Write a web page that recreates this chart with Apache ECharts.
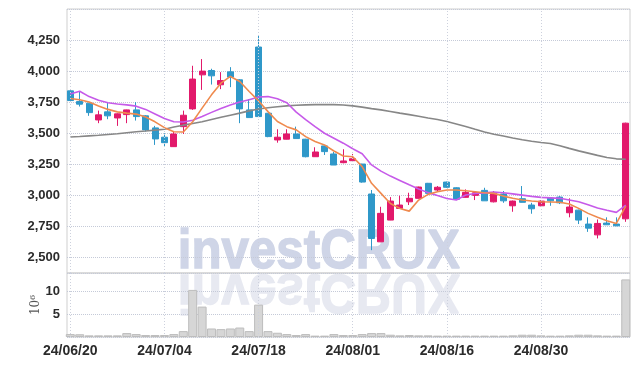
<!DOCTYPE html>
<html><head><meta charset="utf-8">
<script src="https://cdn.jsdelivr.net/npm/echarts@6/dist/echarts.min.js"></script>
<style>html,body{margin:0;padding:0;background:#fff}#c{width:639px;height:366px}</style>
</head><body><div id="c"></div>
<script>
const dates = ['24/06/20','24/06/21','24/06/24','24/06/25','24/06/26','24/06/27','24/06/28','24/07/01','24/07/02','24/07/03','24/07/04','24/07/05','24/07/08','24/07/09','24/07/10','24/07/11','24/07/12','24/07/15','24/07/16','24/07/17','24/07/18','24/07/19','24/07/22','24/07/23','24/07/24','24/07/25','24/07/26','24/07/29','24/07/30','24/07/31','24/08/01','24/08/02','24/08/05','24/08/06','24/08/07','24/08/08','24/08/09','24/08/12','24/08/13','24/08/14','24/08/16','24/08/19','24/08/20','24/08/21','24/08/22','24/08/23','24/08/26','24/08/27','24/08/28','24/08/29','24/08/30','24/09/02','24/09/03','24/09/04','24/09/05','24/09/06','24/09/09','24/09/10','24/09/11','24/09/12'];
const openP  = [3841,3755,3742,3607,3672,3623,3650,3688,3640,3543,3468,3392,3553,3696,3970,4005,3890,3994,3930,3688,4194,3661,3446,3452,3494,3452,3311,3398,3333,3263,3279,3252,3011,2626,2801,2895,2948,2976,3097,3043,3107,3061,2984,3000,3040,2948,3011,2916,2973,2922,2916,2978,2986,2860,2881,2769,2682,2777,2769,2811];
const closeP = [3763,3734,3666,3648,3640,3656,3688,3634,3527,3454,3424,3494,3645,3936,4000,3962,3924,3952,3696,3626,3634,3473,3468,3494,3457,3311,3349,3352,3244,3277,3295,3107,2653,2855,2954,2922,2976,3067,3016,3065,3065,2968,3024,3021,2956,3016,2956,2954,2944,2892,2954,2956,2940,2906,2801,2736,2774,2763,2755,3581];
const lowP   = [3755,3715,3640,3581,3613,3559,3581,3602,3513,3406,3392,3390,3494,3688,3849,3892,3855,3871,3581,3624,3630,3468,3424,3450,3457,3306,3309,3325,3244,3258,3279,3102,2559,2624,2800,2893,2922,2974,3013,3035,3060,2965,2982,2962,2955,2943,2940,2868,2942,2852,2912,2916,2930,2823,2769,2706,2653,2763,2752,2787];
const highP  = [3845,3836,3745,3682,3747,3660,3690,3750,3645,3559,3500,3513,3682,4043,4097,4019,3992,4032,3935,3774,4285,3661,3532,3532,3553,3455,3387,3400,3349,3371,3333,3254,3043,2908,2986,2997,3021,3070,3100,3075,3110,3065,3048,3025,3061,3035,3035,2958,3075,2940,2960,2980,2994,2976,2885,2823,2806,2823,2823,3585];
const maShort = [3780,3770,3752,3720,3692,3672,3662,3654,3630,3592,3545,3512,3510,3592,3702,3809,3903,3957,3916,3836,3760,3674,3594,3553,3527,3473,3433,3406,3357,3317,3311,3231,3097,3016,2935,2895,2873,2962,3008,3029,3043,3043,3037,3029,3021,3016,2994,2976,2962,2954,2948,2946,2944,2930,2895,2855,2823,2795,2774,2914];
const maMid = [3815,3838,3795,3765,3745,3735,3728,3718,3692,3655,3618,3592,3590,3605,3635,3668,3700,3728,3752,3770,3792,3795,3778,3745,3670,3610,3553,3500,3460,3420,3375,3335,3245,3195,3155,3120,3085,3052,3022,2998,2975,2962,3003,3015,3020,3026,3021,3012,3002,2992,2984,2980,2976,2962,2948,2925,2898,2880,2863,2922];
const maLong = [3470,3474,3479,3484,3490,3496,3504,3512,3518,3525,3532,3550,3565,3578,3592,3610,3628,3645,3662,3680,3695,3705,3713,3720,3725,3728,3730,3730,3730,3727,3720,3710,3698,3688,3675,3662,3650,3637,3623,3610,3595,3575,3555,3532,3510,3492,3478,3462,3447,3435,3425,3418,3400,3378,3358,3340,3322,3305,3294,3290];
const volume = [0.64,0.6,0.36,0.36,0.36,0.36,0.86,0.64,0.43,0.43,0.43,0.64,1.29,10.3,6.65,1.86,1.72,1.86,2.07,1.29,7.08,1.29,0.93,0.64,0.43,0.64,0.3,0.3,0.64,0.43,0.43,0.64,0.86,0.86,0.5,0.36,0.43,0.36,0.36,0.3,0.3,0.3,0.3,0.3,0.3,0.3,0.3,0.36,0.5,0.5,0.36,0.3,0.3,0.36,0.5,0.5,0.36,0.3,0.3,12.6];
const priceTicks = [2500,2750,3000,3250,3500,3750,4000,4250];
const volumeTicks = [5,10];
const dateTickIdx = [0,10,20,30,40,50];

const UP = '#e2196b', DOWN = '#2f98c9';
const GRIDC = '#c5cad8';
const LBL = {fontFamily:'"Liberation Sans",Arial,sans-serif', fontWeight:'bold', color:'#2b2b2b'};

const candleData = dates.map((d,i)=>[i, openP[i], closeP[i], lowP[i], highP[i]]);
const toXY = arr => arr.map((v,i)=>[i,v]);
const vLines = dateTickIdx.map(i => ({xAxis:i}));

const chart = echarts.init(document.getElementById('c'));
const splitColors = [];
for (let v = 2375; v <= 4500; v += 125) splitColors.push(v % 250 === 0 ? GRIDC : 'rgba(0,0,0,0)');

const xCommon = {
  type:'value', min:-0.35, max:59.45,
  axisLine:{show:false}, axisTick:{show:false},
  splitLine:{show:false}
};
const gridMarkLine = {
  silent:true, symbol:['none','none'], label:{show:false},
  lineStyle:{type:[1,2], color:'#cdd1dd', width:1},
  emphasis:{disabled:true}, animation:false,
  data:vLines
};
const wmStyle = {text:'investCRUX', x:0, y:-19, font:'bold 56px Liberation Sans', lineWidth:1.4, verticalAlign:'middle', textVerticalAlign:'middle'};

chart.setOption({
  animation:false,
  grid:[
    {left:67, right:9, top:9, height:264, show:true, borderColor:'#cfcfcf', borderWidth:1},
    {left:67, right:9, top:273, height:64, show:true, borderColor:'#cfcfcf', borderWidth:1}
  ],
  xAxis:[
    Object.assign({gridIndex:0, axisLabel:{show:false}}, xCommon),
    Object.assign({gridIndex:1, axisLabel:Object.assign({show:true, fontSize:14, margin:7, showMinLabel:false, showMaxLabel:false,
      formatter:v => dateTickIdx.indexOf(v) >= 0 ? dates[v] : ''}, LBL)}, xCommon)
  ],
  yAxis:[
    {gridIndex:0, type:'value', min:2375, max:4500, interval:125,
      axisLine:{show:false}, axisTick:{show:false},
      axisLabel:Object.assign({fontSize:13, margin:7, showMaxLabel:false,
        formatter:v => priceTicks.indexOf(v) >= 0 ? v.toLocaleString('en-US') : ''}, LBL),
      splitLine:{show:true, lineStyle:{type:'dotted', color:splitColors}}},
    {gridIndex:1, type:'value', min:0, max:14, interval:5,
      axisLine:{show:false}, axisTick:{show:false},
      name:'10\u2076', nameLocation:'middle', nameRotate:90, nameGap:25, nameMoveOverlap:false,
      nameTextStyle:{fontFamily:'"DejaVu Serif",serif', fontSize:12, color:'#555'},
      axisLabel:Object.assign({fontSize:13, margin:7, showMinLabel:false, showMaxLabel:false,
        formatter:v => volumeTicks.indexOf(v) >= 0 ? String(v) : ''}, LBL),
      splitLine:{show:true, lineStyle:{type:'dotted', color:GRIDC}}}
  ],
  graphic:[
    {type:'text', x:177.7, y:271.7, scaleX:0.88, z:0, silent:true,
      style:Object.assign({fill:'#cfd5e7', stroke:'#cfd5e7'}, wmStyle)},
    {type:'text', x:177.7, y:271.7, scaleX:0.88, scaleY:-1, z:0, silent:true,
      style:Object.assign({fill:'#e7e9f1', stroke:'#e7e9f1'}, wmStyle)}
  ],
  series:[
    {type:'line', xAxisIndex:0, yAxisIndex:0, data:[], z:1, markLine:gridMarkLine},
    {type:'line', xAxisIndex:1, yAxisIndex:1, data:[], z:1, markLine:gridMarkLine},
    {type:'bar', xAxisIndex:1, yAxisIndex:1, data:toXY(volume), barWidth:9, z:2,
      itemStyle:{color:'#d6d6d6', borderColor:'#bdbdbd', borderWidth:1}},
    {type:'candlestick', xAxisIndex:0, yAxisIndex:0, data:candleData, barWidth:6.5, z:2,
      encode:{x:0, y:[1,2,3,4]},
      itemStyle:{color:UP, color0:DOWN, borderColor:UP, borderColor0:DOWN, borderWidth:1}},
    {type:'line', xAxisIndex:0, yAxisIndex:0, data:toXY(maLong), showSymbol:false, z:3,
      lineStyle:{color:'#878787', width:1.6}},
    {type:'line', xAxisIndex:0, yAxisIndex:0, data:toXY(maMid), showSymbol:false, z:3,
      lineStyle:{color:'#c65ae9', width:1.6}},
    {type:'line', xAxisIndex:0, yAxisIndex:0, data:toXY(maShort), showSymbol:false, z:3,
      lineStyle:{color:'#ef8a4e', width:1.6}}
  ]
});
</script>
</body></html>
